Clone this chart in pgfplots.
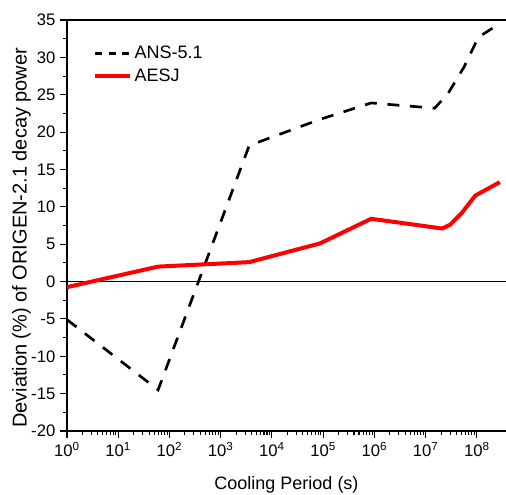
\documentclass[border=0pt]{standalone}
\usepackage{fontspec}
\setmainfont{Liberation Sans}
\usepackage{pgfplots}
\pgfplotsset{compat=1.18}

\begin{document}
\begin{tikzpicture}
\begin{axis}[
  scale only axis, width=329.25pt, height=308.25pt,
  xmode=log, xmin=1, xmax=3.7e8, ymin=-20, ymax=35,
  axis x line*=box, axis y line*=left,
  axis line style={black, line width=1.1pt},
  tick align=outside, tick pos=left,
  major tick length=5.25pt, minor tick length=3pt,
  tick style={black, line width=0.8pt},
  xtick={1,10,100,1000,1e4,1e5,1e6,1e7,1e8},
  xticklabels={10\textsuperscript{0},10\textsuperscript{1},10\textsuperscript{2},10\textsuperscript{3},10\textsuperscript{4},10\textsuperscript{5},10\textsuperscript{6},10\textsuperscript{7},10\textsuperscript{8}},
  ytick={-20,-15,...,35},
  yticklabels={-20,-15,-10,-5,0,5,10,15,20,25,30,35},
  minor y tick num=1,
  tick label style={font=\fontsize{12.5}{14}\selectfont},
  xlabel={Cooling Period (s)},
  ylabel={Deviation (\%) of ORIGEN-2.1 decay power},
  every axis x label/.style={at={(axis description cs:0.5,-0.131)}, anchor=center,
    font=\fontsize{13.5}{16}\selectfont},
  every axis y label/.style={at={(axis description cs:-0.104,0.47)}, anchor=center, rotate=90,
    font=\fontsize{15}{17}\selectfont},
  extra y ticks={0}, extra y tick labels={},
  extra y tick style={grid=major, major grid style={black, line width=1pt}},
  legend style={at={(0.05,0.95)}, anchor=north west, draw=none, fill=none,
    font=\fontsize{13.5}{16}\selectfont, row sep=2pt},
  legend cell align=left,
  legend image code/.code={\draw[#1] (0pt,0pt) -- (26pt,0pt);},
]
\addplot[black, line width=2pt, dash pattern=on 9pt off 8pt,
  legend image post style={dash pattern=on 5.3pt off 4.8pt}] coordinates {
  (1,-5.1) (60,-14.5) (3600,18.2) (86400,21.7) (864000,23.9) (1.5e7,23.2)
  (2.75e7,25.2) (5.6e7,28.7) (1.07e8,32.7) (2.9e8,34.6)
};
\addlegendentry{ANS-5.1}
\addplot[red, line width=3pt] coordinates {
  (1,-0.75) (60,2.0) (3600,2.6) (86400,5.1) (864000,8.4) (2.1e7,7.1)
  (3e7,7.6) (5.1e7,9.2) (6.8e7,10.3) (9.3e7,11.5) (2.8e8,13.3)
};
\addlegendentry{AESJ}
\end{axis}
\pgfresetboundingbox
\path[use as bounding box] (-50.25pt,-47.25pt) rectangle (329.25pt,323.25pt);
\end{tikzpicture}
\end{document}
